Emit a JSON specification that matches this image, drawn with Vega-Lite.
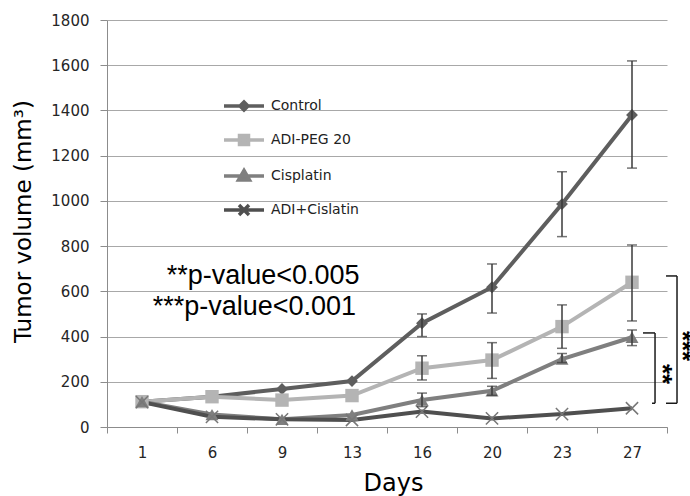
{
  "$schema": "https://vega.github.io/schema/vega-lite/v6.json",
  "autosize": {"type": "none"},
  "padding": {"left": 107, "top": 20, "right": 23, "bottom": 69},
  "width": 560,
  "height": 407,
  "background": "white",
  "config": {"view": {"stroke": null}},
  "datasets": {
    "series": [
      {"day": 1, "series": "Control", "value": 112},
      {"day": 6, "series": "Control", "value": 134},
      {"day": 9, "series": "Control", "value": 168},
      {"day": 13, "series": "Control", "value": 203},
      {"day": 16, "series": "Control", "value": 459, "lo": 400, "hi": 500},
      {"day": 20, "series": "Control", "value": 618, "lo": 504, "hi": 721},
      {"day": 23, "series": "Control", "value": 986, "lo": 842, "hi": 1129},
      {"day": 27, "series": "Control", "value": 1380, "lo": 1145, "hi": 1619},
      {"day": 1, "series": "ADI-PEG 20", "value": 112},
      {"day": 6, "series": "ADI-PEG 20", "value": 134},
      {"day": 9, "series": "ADI-PEG 20", "value": 119},
      {"day": 13, "series": "ADI-PEG 20", "value": 139},
      {"day": 16, "series": "ADI-PEG 20", "value": 260, "lo": 208, "hi": 315},
      {"day": 20, "series": "ADI-PEG 20", "value": 296, "lo": 215, "hi": 373},
      {"day": 23, "series": "ADI-PEG 20", "value": 444, "lo": 348, "hi": 540},
      {"day": 27, "series": "ADI-PEG 20", "value": 640, "lo": 469, "hi": 805},
      {"day": 1, "series": "Cisplatin", "value": 112},
      {"day": 6, "series": "Cisplatin", "value": 55},
      {"day": 9, "series": "Cisplatin", "value": 34},
      {"day": 13, "series": "Cisplatin", "value": 53},
      {"day": 16, "series": "Cisplatin", "value": 119, "lo": 90, "hi": 150},
      {"day": 20, "series": "Cisplatin", "value": 160, "lo": 140, "hi": 180},
      {"day": 23, "series": "Cisplatin", "value": 300, "lo": 285, "hi": 325},
      {"day": 27, "series": "Cisplatin", "value": 397, "lo": 360, "hi": 429},
      {"day": 1, "series": "ADI+Cislatin", "value": 110},
      {"day": 6, "series": "ADI+Cislatin", "value": 45},
      {"day": 9, "series": "ADI+Cislatin", "value": 34},
      {"day": 13, "series": "ADI+Cislatin", "value": 31},
      {"day": 16, "series": "ADI+Cislatin", "value": 68},
      {"day": 20, "series": "ADI+Cislatin", "value": 38},
      {"day": 23, "series": "ADI+Cislatin", "value": 57},
      {"day": 27, "series": "ADI+Cislatin", "value": 83}
    ],
    "brackets": [
      {"x": 8.329, "x2": 8.329, "y": 105, "y2": 416},
      {"x": 8.157, "x2": 8.329, "y": 416, "y2": 416},
      {"x": 8.286, "x2": 8.329, "y": 105, "y2": 105},
      {"x": 8.643, "x2": 8.643, "y": 105, "y2": 668},
      {"x": 8.486, "x2": 8.643, "y": 668, "y2": 668},
      {"x": 8.486, "x2": 8.643, "y": 105, "y2": 105}
    ],
    "notes": [
      {"x": 1.353, "y": 632, "text": "**p-value<0.005"},
      {"x": 1.153, "y": 495, "text": "***p-value<0.001"}
    ],
    "stars": [
      {"x": 8.43, "y": 234, "text": "**"},
      {"x": 8.71, "y": 358, "text": "***"}
    ]
  },
  "layer": [
    {
      "data": {"name": "series"},
      "layer": [
        {
          "mark": {"type": "line", "strokeWidth": 4}
        },
        {
          "transform": [{"filter": "datum.series === 'Control'"}],
          "mark": {"type": "point", "filled": true, "opacity": 1, "shape": "diamond", "size": 140, "strokeWidth": 1}
        },
        {
          "transform": [{"filter": "datum.series === 'ADI-PEG 20'"}],
          "mark": {"type": "point", "filled": true, "opacity": 1, "shape": "square", "size": 180, "strokeWidth": 1}
        },
        {
          "transform": [{"filter": "datum.series === 'Cisplatin'"}],
          "mark": {"type": "point", "filled": true, "opacity": 1, "shape": "triangle-up", "size": 170, "strokeWidth": 1}
        },
        {
          "transform": [{"filter": "datum.series === 'ADI+Cislatin'"}],
          "mark": {"type": "point", "filled": false, "opacity": 1, "shape": "M-1,-1L1,1M1,-1L-1,1", "size": 150, "strokeWidth": 1.5},
          "encoding": {"color": {"value": "#777777"}}
        },
        {
          "transform": [{"filter": "isValid(datum.lo)"}],
          "mark": {
            "type": "errorbar",
            "ticks": {"size": 10, "thickness": 1.5},
            "rule": {"strokeWidth": 1.5}
          },
          "encoding": {
            "y": {"field": "lo", "type": "quantitative"},
            "y2": {"field": "hi"},
            "color": {"value": "#3a3a3a"}
          }
        }
      ],
      "encoding": {
        "x": {
          "field": "day",
          "type": "ordinal",
          "scale": {"paddingInner": 0, "paddingOuter": 0},
          "axis": {
            "title": "Days",
            "labelAngle": 0,
            "tickBand": "extent",
            "tickSize": 6,
            "tickColor": "#8c8c8c",
            "domainColor": "#8c8c8c",
            "labelFont": "DejaVu Sans",
            "labelFontSize": 15,
            "labelColor": "#262626",
            "labelPadding": 12,
            "titleFont": "DejaVu Sans",
            "titleFontSize": 24,
            "titleFontWeight": "normal",
            "titleColor": "#000000",
            "titleX": 286,
            "titleY": 56,
            "titleBaseline": "middle",
            "grid": false
          }
        },
        "y": {
          "field": "value",
          "type": "quantitative",
          "scale": {"domain": [0, 1800], "nice": false},
          "axis": {
            "title": "Tumor volume (mm³)",
            "values": [0, 200, 400, 600, 800, 1000, 1200, 1400, 1600, 1800],
            "format": "d",
            "tickSize": 7,
            "tickColor": "#8c8c8c",
            "domainColor": "#8c8c8c",
            "grid": true,
            "gridColor": "#a8a8a8",
            "gridWidth": 1,
            "labelFont": "DejaVu Sans",
            "labelFontSize": 15,
            "labelColor": "#262626",
            "labelPadding": 11,
            "titleFont": "DejaVu Sans",
            "titleFontSize": 23,
            "titleFontWeight": "normal",
            "titleColor": "#000000",
            "titleAngle": -90,
            "titleAlign": "center",
            "titleBaseline": "middle",
            "titleX": -84,
            "titleY": 201
          }
        },
        "color": {
          "field": "series",
          "type": "nominal",
          "scale": {
            "domain": ["Control", "ADI-PEG 20", "Cisplatin", "ADI+Cislatin"],
            "range": ["#5e5e5e", "#b4b4b4", "#7f7f7f", "#4f4f4f"]
          },
          "legend": {
            "orient": "none",
            "legendX": 130,
            "legendY": 79,
            "title": null,
            "padding": 0,
            "labelFont": "DejaVu Sans",
            "labelFontSize": 14,
            "labelColor": "#222222",
            "symbolSize": 100,
            "labelOffset": 20,
            "rowPadding": 11,
            "encode": {
              "symbols": {
                "update": {
                  "shape": {"signal": "datum.value === 'Control' ? 'M-4,0L4,0M0,-0.8L0.8,0L0,0.8L-0.8,0Z' : datum.value === 'ADI-PEG 20' ? 'M-4,0L4,0M-0.9,-0.9L0.9,-0.9L0.9,0.9L-0.9,0.9Z' : datum.value === 'Cisplatin' ? 'M-4,0L4,0M0,-1.1L1.1,0.8L-1.1,0.8Z' : 'M-4,0L4,0M-1,-1L1,1M1,-1L-1,1'"},
                  "fill": {"scale": "color", "field": "value"},
                  "stroke": {"scale": "color", "field": "value"},
                  "strokeWidth": {"value": 3.5},
                  "opacity": {"value": 1}
                }
              }
            }
          }
        }
      }
    },
    {
      "layer": [
        {
          "data": {"name": "brackets"},
          "mark": {"type": "rule", "color": "#1a1a1a", "strokeWidth": 1.5},
          "encoding": {
            "x": {"field": "x", "type": "quantitative", "axis": null},
            "x2": {"field": "x2"},
            "y": {"field": "y", "type": "quantitative", "axis": null},
            "y2": {"field": "y2"}
          }
        },
        {
          "data": {"name": "notes"},
          "mark": {"type": "text", "font": "Liberation Sans", "fontSize": 27, "align": "left", "baseline": "alphabetic", "color": "#000000"},
          "encoding": {
            "x": {"field": "x", "type": "quantitative", "axis": null},
            "y": {"field": "y", "type": "quantitative", "axis": null},
            "text": {"field": "text"}
          }
        },
        {
          "data": {"name": "stars"},
          "mark": {"type": "text", "font": "Liberation Sans", "fontSize": 26, "fontWeight": "bold", "angle": 90, "align": "center", "baseline": "middle", "color": "#000000"},
          "encoding": {
            "x": {"field": "x", "type": "quantitative", "axis": null},
            "y": {"field": "y", "type": "quantitative", "axis": null},
            "text": {"field": "text"}
          }
        }
      ],
      "encoding": {
        "x": {"field": "x", "type": "quantitative", "scale": {"domain": [0.5, 8.5], "nice": false, "zero": false}, "axis": null},
        "y": {"field": "y", "type": "quantitative", "scale": {"domain": [0, 1800], "nice": false}, "axis": null}
      }
    }
  ],
  "resolve": {"scale": {"x": "independent", "y": "independent"}, "axis": {"x": "independent", "y": "independent"}}
}
